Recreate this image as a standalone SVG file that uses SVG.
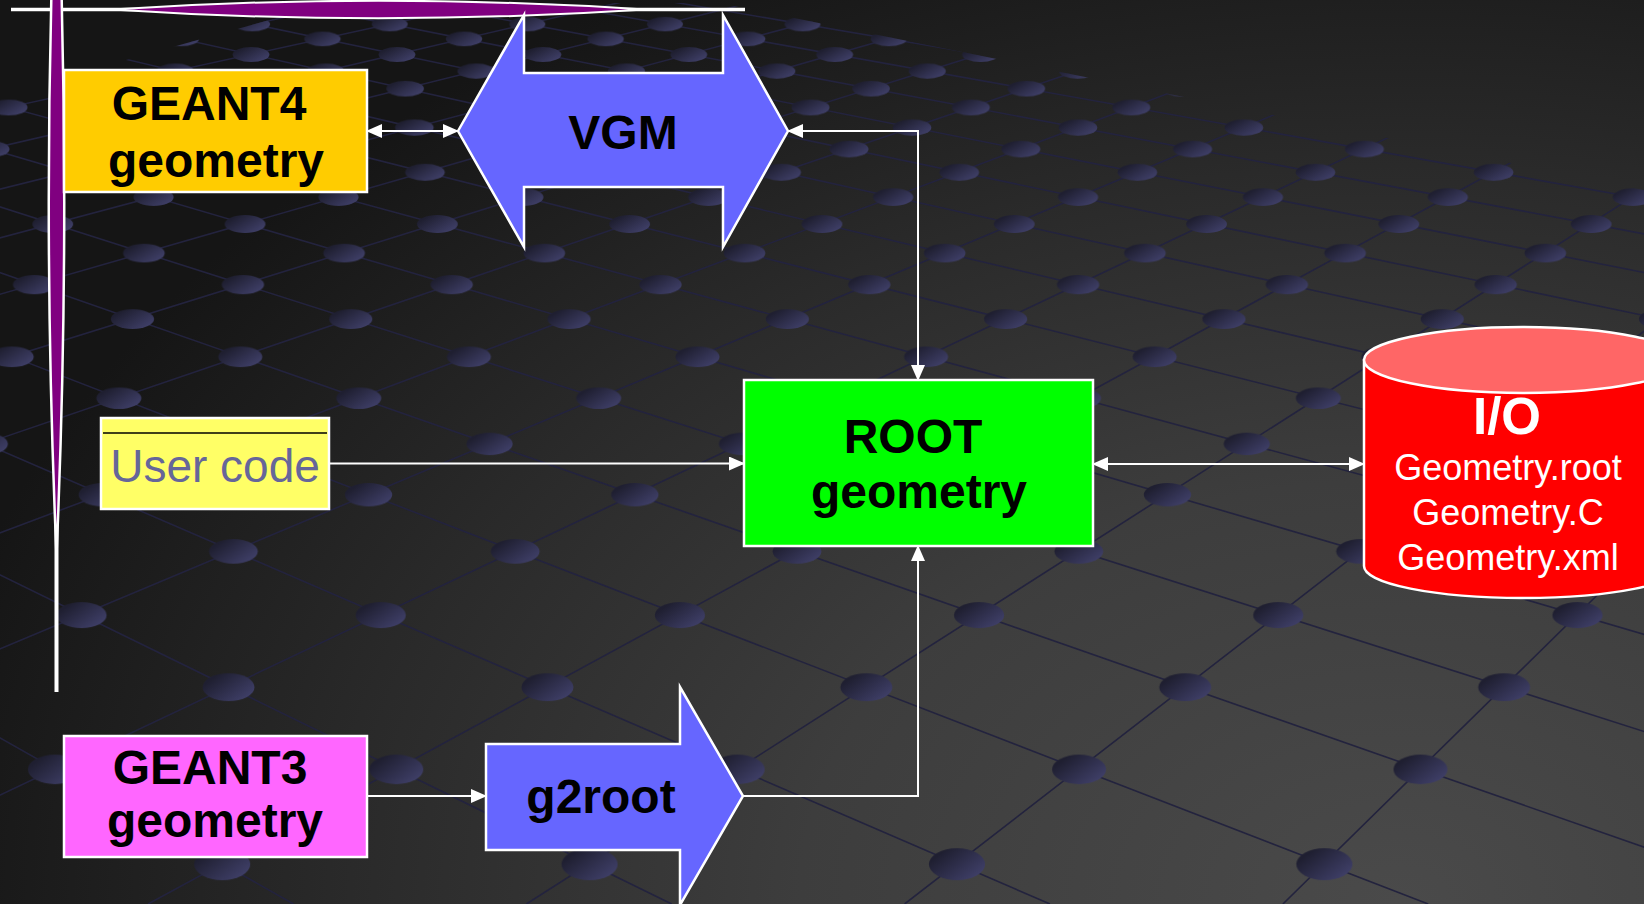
<svg xmlns="http://www.w3.org/2000/svg" width="1644" height="904" viewBox="0 0 1644 904">
<style>
.t{font-family:'Liberation Sans',Arial,sans-serif;text-anchor:middle}
.b{font-weight:bold;font-size:48px;fill:#000}
.box{stroke:#fff;stroke-width:2.5}
.io{fill:#fff;font-size:36px}
.gl{stroke:#23233e;stroke-width:1.6;fill:none}
</style>
<defs>
<radialGradient id="bg" gradientUnits="userSpaceOnUse" cx="1400" cy="900" r="1500" gradientTransform="translate(1400 900) scale(1 0.7) translate(-1400 -900)">
<stop offset="0" stop-color="#4a4a4a"/><stop offset="0.4" stop-color="#3d3d3d"/><stop offset="0.7" stop-color="#2a2a2a"/><stop offset="1" stop-color="#151515"/>
</radialGradient>
<linearGradient id="dg" x1="0.15" y1="0.25" x2="0.9" y2="0.8">
<stop offset="0" stop-color="#1f1f31"/><stop offset="1" stop-color="#3e3e66"/>
</linearGradient>
<clipPath id="field"><polygon points="0,95 330,3 720,3 1644,190 1644,904 0,904"/></clipPath>
<marker id="ah" viewBox="0 0 16 14" refX="15" refY="7" markerWidth="16" markerHeight="14" markerUnits="userSpaceOnUse" orient="auto-start-reverse"><path d="M0,0 L16,7 L0,14 Z" fill="#fff"/></marker>
<pattern id="r0" patternUnits="userSpaceOnUse" x="320.9" y="15.9" width="137.6" height="16.4"><ellipse cx="68.8" cy="8.2" rx="18" ry="7.2" fill="url(#dg)"/></pattern>
<pattern id="r1" patternUnits="userSpaceOnUse" x="251.6" y="30.6" width="141.6" height="16.6"><ellipse cx="70.8" cy="8.3" rx="18.2" ry="7.3" fill="url(#dg)"/></pattern>
<pattern id="r2" patternUnits="userSpaceOnUse" x="324" y="46" width="145.9" height="17"><ellipse cx="72.95" cy="8.5" rx="18.4" ry="7.5" fill="url(#dg)"/></pattern>
<pattern id="r3" patternUnits="userSpaceOnUse" x="250.4" y="62.5" width="150.4" height="17.2"><ellipse cx="75.2" cy="8.6" rx="18.6" ry="7.6" fill="url(#dg)"/></pattern>
<pattern id="r4" patternUnits="userSpaceOnUse" x="327.5" y="79.9" width="155.3" height="17.6"><ellipse cx="77.65" cy="8.8" rx="18.8" ry="7.8" fill="url(#dg)"/></pattern>
<pattern id="r5" patternUnits="userSpaceOnUse" x="249.1" y="98.6" width="160.4" height="17.8"><ellipse cx="80.2" cy="8.9" rx="19" ry="7.9" fill="url(#dg)"/></pattern>
<pattern id="r6" patternUnits="userSpaceOnUse" x="331.4" y="118.5" width="165.9" height="18.2"><ellipse cx="82.95" cy="9.1" rx="19.3" ry="8.1" fill="url(#dg)"/></pattern>
<pattern id="r7" patternUnits="userSpaceOnUse" x="247.7" y="139.8" width="171.8" height="18.6"><ellipse cx="85.9" cy="9.3" rx="19.5" ry="8.3" fill="url(#dg)"/></pattern>
<pattern id="r8" patternUnits="userSpaceOnUse" x="335.9" y="162.8" width="178.1" height="19"><ellipse cx="89.05" cy="9.5" rx="19.8" ry="8.5" fill="url(#dg)"/></pattern>
<pattern id="r9" patternUnits="userSpaceOnUse" x="246" y="187.3" width="184.9" height="19.6"><ellipse cx="92.45" cy="9.8" rx="20.1" ry="8.8" fill="url(#dg)"/></pattern>
<pattern id="r10" patternUnits="userSpaceOnUse" x="341.2" y="214" width="192.3" height="20"><ellipse cx="96.15" cy="10" rx="20.4" ry="9" fill="url(#dg)"/></pattern>
<pattern id="r11" patternUnits="userSpaceOnUse" x="244" y="242.8" width="200.2" height="20.6"><ellipse cx="100.1" cy="10.3" rx="20.8" ry="9.3" fill="url(#dg)"/></pattern>
<pattern id="r12" patternUnits="userSpaceOnUse" x="347.3" y="274" width="208.8" height="21.2"><ellipse cx="104.4" cy="10.6" rx="21.2" ry="9.6" fill="url(#dg)"/></pattern>
<pattern id="r13" patternUnits="userSpaceOnUse" x="241.6" y="308.2" width="218.3" height="21.8"><ellipse cx="109.15" cy="10.9" rx="21.6" ry="9.9" fill="url(#dg)"/></pattern>
<pattern id="r14" patternUnits="userSpaceOnUse" x="354.6" y="345.5" width="228.6" height="22.6"><ellipse cx="114.3" cy="11.3" rx="22" ry="10.3" fill="url(#dg)"/></pattern>
<pattern id="r15" patternUnits="userSpaceOnUse" x="238.8" y="386.5" width="239.9" height="23.4"><ellipse cx="119.95" cy="11.7" rx="22.5" ry="10.7" fill="url(#dg)"/></pattern>
<pattern id="r16" patternUnits="userSpaceOnUse" x="363.4" y="431.7" width="252.4" height="24.4"><ellipse cx="126.2" cy="12.2" rx="23.1" ry="11.2" fill="url(#dg)"/></pattern>
<pattern id="r17" patternUnits="userSpaceOnUse" x="235.4" y="482" width="266.3" height="25.4"><ellipse cx="133.15" cy="12.7" rx="23.7" ry="11.7" fill="url(#dg)"/></pattern>
<pattern id="r18" patternUnits="userSpaceOnUse" x="374.3" y="538.1" width="281.8" height="26.6"><ellipse cx="140.9" cy="13.3" rx="24.4" ry="12.3" fill="url(#dg)"/></pattern>
<pattern id="r19" patternUnits="userSpaceOnUse" x="231.1" y="601.1" width="299.2" height="28"><ellipse cx="149.6" cy="14" rx="25.1" ry="13" fill="url(#dg)"/></pattern>
<pattern id="r20" patternUnits="userSpaceOnUse" x="388" y="672.3" width="318.9" height="29.8"><ellipse cx="159.45" cy="14.9" rx="26" ry="13.9" fill="url(#dg)"/></pattern>
<pattern id="r21" patternUnits="userSpaceOnUse" x="225.6" y="753.6" width="341.4" height="31.6"><ellipse cx="170.7" cy="15.8" rx="27" ry="14.8" fill="url(#dg)"/></pattern>
<pattern id="r22" patternUnits="userSpaceOnUse" x="405.9" y="847.2" width="367.4" height="34"><ellipse cx="183.7" cy="17" rx="28.1" ry="16" fill="url(#dg)"/></pattern>
</defs>

<rect width="1644" height="904" fill="url(#bg)"/>
<g id="background-grid" clip-path="url(#field)">
<path class="gl" d="M-2150,-479L293.5,904M-2150,-479L671.7,904M-2150,-479L1050,904M-2150,-479L1428.2,904M-2150,-479L1806.5,904M-2150,-479L2184.7,904M-2150,-479L2563,904M-2150,-479L2941.2,904M-2150,-479L3319.5,904M-2150,-479L3697.7,904M-2150,-479L4076,904M-2150,-479L4454.2,904M-2150,-479L4832.5,904M-2150,-479L5210.7,904M-2150,-479L5589,904M-2150,-479L5967.2,904M-2150,-479L6345.5,904"/>
<path class="gl" d="M2690,-479L1661.2,904M2690,-479L1282.9,904M2690,-479L904.6,904M2690,-479L526.4,904M2690,-479L148.1,904M2690,-479L-230.1,904M2690,-479L-608.4,904M2690,-479L-986.6,904M2690,-479L-1364.8,904M2690,-479L-1743.1,904M2690,-479L-2121.3,904M2690,-479L-2499.6,904M2690,-479L-2877.8,904M2690,-479L-3256.1,904M2690,-479L-3634.3,904M2690,-479L-4012.6,904"/>
<rect x="0" y="15.9" width="1644" height="16.4" fill="url(#r0)"/>
<rect x="0" y="30.6" width="1644" height="16.6" fill="url(#r1)"/>
<rect x="0" y="46" width="1644" height="17" fill="url(#r2)"/>
<rect x="0" y="62.5" width="1644" height="17.2" fill="url(#r3)"/>
<rect x="0" y="79.9" width="1644" height="17.6" fill="url(#r4)"/>
<rect x="0" y="98.6" width="1644" height="17.8" fill="url(#r5)"/>
<rect x="0" y="118.5" width="1644" height="18.2" fill="url(#r6)"/>
<rect x="0" y="139.8" width="1644" height="18.6" fill="url(#r7)"/>
<rect x="0" y="162.8" width="1644" height="19" fill="url(#r8)"/>
<rect x="0" y="187.3" width="1644" height="19.6" fill="url(#r9)"/>
<rect x="0" y="214" width="1644" height="20" fill="url(#r10)"/>
<rect x="0" y="242.8" width="1644" height="20.6" fill="url(#r11)"/>
<rect x="0" y="274" width="1644" height="21.2" fill="url(#r12)"/>
<rect x="0" y="308.2" width="1644" height="21.8" fill="url(#r13)"/>
<rect x="0" y="345.5" width="1644" height="22.6" fill="url(#r14)"/>
<rect x="0" y="386.5" width="1644" height="23.4" fill="url(#r15)"/>
<rect x="0" y="431.7" width="1644" height="24.4" fill="url(#r16)"/>
<rect x="0" y="482" width="1644" height="25.4" fill="url(#r17)"/>
<rect x="0" y="538.1" width="1644" height="26.6" fill="url(#r18)"/>
<rect x="0" y="601.1" width="1644" height="28" fill="url(#r19)"/>
<rect x="0" y="672.3" width="1644" height="29.8" fill="url(#r20)"/>
<rect x="0" y="753.6" width="1644" height="31.6" fill="url(#r21)"/>
<rect x="0" y="847.2" width="1644" height="34" fill="url(#r22)"/>
</g>

<g id="decoration">
<line x1="11" y1="9.5" x2="745" y2="9.5" stroke="#fff" stroke-width="3.5"/>
<path d="M112,9.5 Q378,-8 645,9.5 Q378,27 112,9.5 Z" fill="#800080" stroke="#fff" stroke-width="2"/>
<line x1="56.5" y1="0" x2="56.5" y2="692" stroke="#fff" stroke-width="4"/>
<path d="M56.5,-150 Q72,200 56.5,555 Q41,200 56.5,-150 Z" fill="#800080" stroke="#fff" stroke-width="2.5"/>
</g>

<g id="connectors" fill="none" stroke="#fff" stroke-width="2">
<path d="M367,131 H458" marker-start="url(#ah)" marker-end="url(#ah)"/>
<path d="M788,131 H918 V380" marker-start="url(#ah)" marker-end="url(#ah)"/>
<path d="M329,463.5 H744" marker-end="url(#ah)"/>
<path d="M1093,464 H1364" marker-start="url(#ah)" marker-end="url(#ah)"/>
<path d="M367,796 H486" marker-end="url(#ah)"/>
<path d="M743,796 H918 V546" marker-end="url(#ah)"/>
</g>

<g id="geant4">
<rect class="box" x="64" y="70" width="303" height="122" fill="#ffcc00"/>
<text class="t b" x="209" y="120">GEANT4</text>
<text class="t b" x="216" y="177">geometry</text>
</g>

<g id="vgm">
<polygon class="box" points="458,131 524,15 524,73 723,73 723,15 788,131 723,247 723,187 524,187 524,247" fill="#6666ff"/>
<text class="t b" x="623" y="149">VGM</text>
</g>

<g id="usercode">
<rect class="box" x="101" y="418" width="228" height="91" fill="#ffff66"/>
<line x1="103" y1="433" x2="327" y2="433" stroke="#000" stroke-width="1.5"/>
<text class="t" x="215" y="482" font-size="46" fill="#666699">User code</text>
</g>

<g id="root">
<rect class="box" x="744" y="380" width="349" height="166" fill="#00ff00"/>
<text class="t b" x="913" y="453">ROOT</text>
<text class="t b" x="919" y="508">geometry</text>
</g>

<g id="io">
<path class="box" d="M1364,360 V566 A159,32 0 0 0 1682,566 V360 Z" fill="#ff0000"/>
<text class="t" x="1507" y="434" font-size="51" font-weight="bold" fill="#fff">I/O</text>
<ellipse class="box" cx="1523" cy="360" rx="159" ry="33" fill="#ff6666"/>
<text class="t io" x="1508" y="480">Geometry.root</text>
<text class="t io" x="1508" y="525">Geometry.C</text>
<text class="t io" x="1508" y="570">Geometry.xml</text>
</g>

<g id="geant3">
<rect class="box" x="64" y="736" width="303" height="121" fill="#ff66ff"/>
<text class="t b" x="210" y="784">GEANT3</text>
<text class="t b" x="215" y="837">geometry</text>
</g>

<g id="g2root">
<polygon class="box" points="486,744 680,744 680,687 743,796 680,905 680,850 486,850" fill="#6666ff"/>
<text class="t b" x="601" y="813">g2root</text>
</g>
</svg>
